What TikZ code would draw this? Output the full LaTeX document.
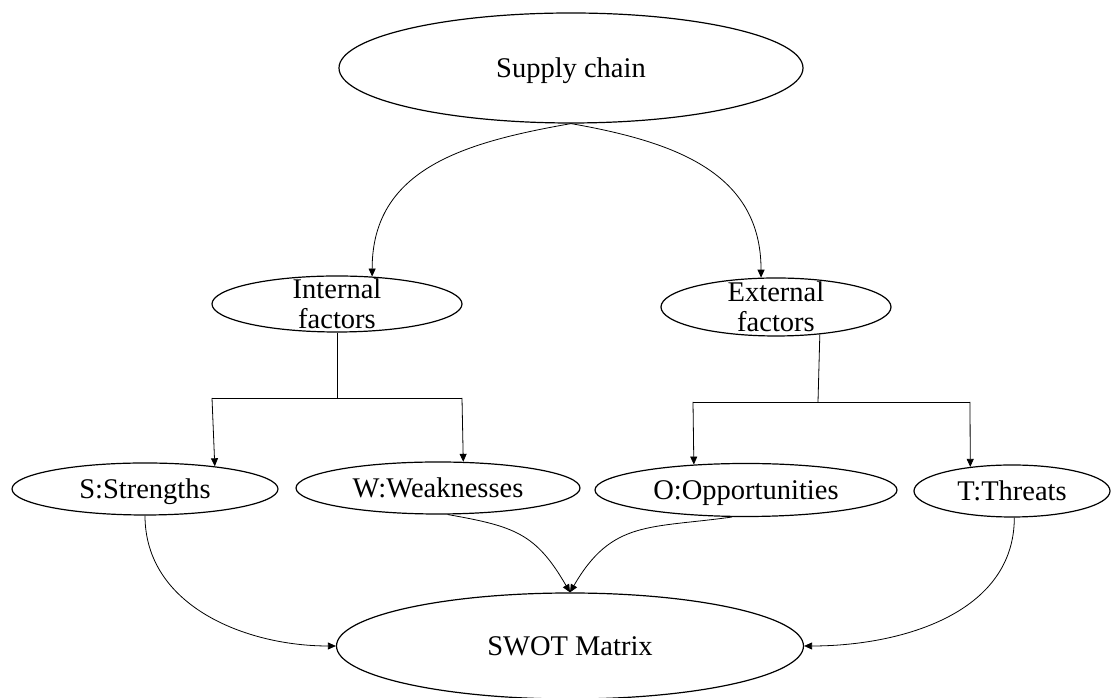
\documentclass[tikz,border=0pt]{standalone}
\usepackage{fontspec}
\setmainfont{Liberation Serif}
\usetikzlibrary{shapes.geometric, arrows.meta}
\begin{document}
\begin{tikzpicture}[x=1pt,y=1pt,
  box/.style={ellipse, draw, line width=1.2pt, inner sep=0pt},
  txt/.style={font=\fontsize{28.5}{30}\selectfont},
  one/.style={txt, text height=19pt, text depth=0pt},
  lbl/.style={txt, align=center, inner sep=0pt},
  conn/.style={line width=0.8pt, -{Triangle[length=8pt,width=7pt]}},
  tie/.style={line width=0.8pt}
]
\useasboundingbox (0,0) rectangle (1112,698);

% nodes
\node[box, one, minimum width=464pt, minimum height=110pt] (sc) at (571,630) {Supply chain};
\node[box, minimum width=250pt, minimum height=56pt] (int) at (337,394) {};
\node[lbl] (intT) at (int.center) {Internal\\factors};
\node[box, minimum width=230pt, minimum height=58pt] (ext) at (776,391) {};
\node[lbl] (extT) at (ext.center) {External\\factors};
\node[box, one, minimum width=266pt, minimum height=52pt] (S) at (145,209) {S:Strengths};
\node[box, one, minimum width=284pt, minimum height=52pt] (W) at (438,210) {W:Weaknesses};
\node[box, one, minimum width=302pt, minimum height=53pt] (O) at (746,208) {O:Opportunities};
\node[box, one, minimum width=196pt, minimum height=52pt] (T) at (1012,207) {T:Threats};
\node[box, one, minimum width=467pt, minimum height=106pt] (M) at (570,52) {SWOT Matrix};

% junctions
\coordinate (jI) at (337,300);
\coordinate (jIa) at (212,300);
\coordinate (jIb) at (462,300);
\coordinate (jE) at (818,296);
\coordinate (jEa) at (693,296);
\coordinate (jEb) at (970,296);

% top curves
\draw[conn] (sc.south) to[out=190, in=90, looseness=1.1] (int.38.4);
\draw[conn] (sc.south) to[out=-10, in=90, looseness=1.1] (ext.117.6);

% internal tree
\draw[tie] (int.south) -- (jI);
\draw[tie] (jIa) -- (jIb);
\draw[conn] (jIa) -- (S.18.5);
\draw[conn] (jIb) -- (W.46.8);

% external tree
\draw[tie] (ext.-32.7) -- (jE);
\draw[tie] (jEa) -- (jEb);
\draw[conn] (jEa) -- (O.154.9);
\draw[conn] (jEb) -- (T.150.8);

% to SWOT
\draw[conn] (S.south) to[out=-90, in=180] (M.west);
\draw[conn] (W.-70.9) to[out=-10, in=120, looseness=1.2] (M.north);
\draw[conn] (O.-117.9) to[out=188, in=60, looseness=1.2] (M.north);
\draw[conn] (T.-85) to[out=-90, in=0] (M.east);
\end{tikzpicture}
\end{document}
